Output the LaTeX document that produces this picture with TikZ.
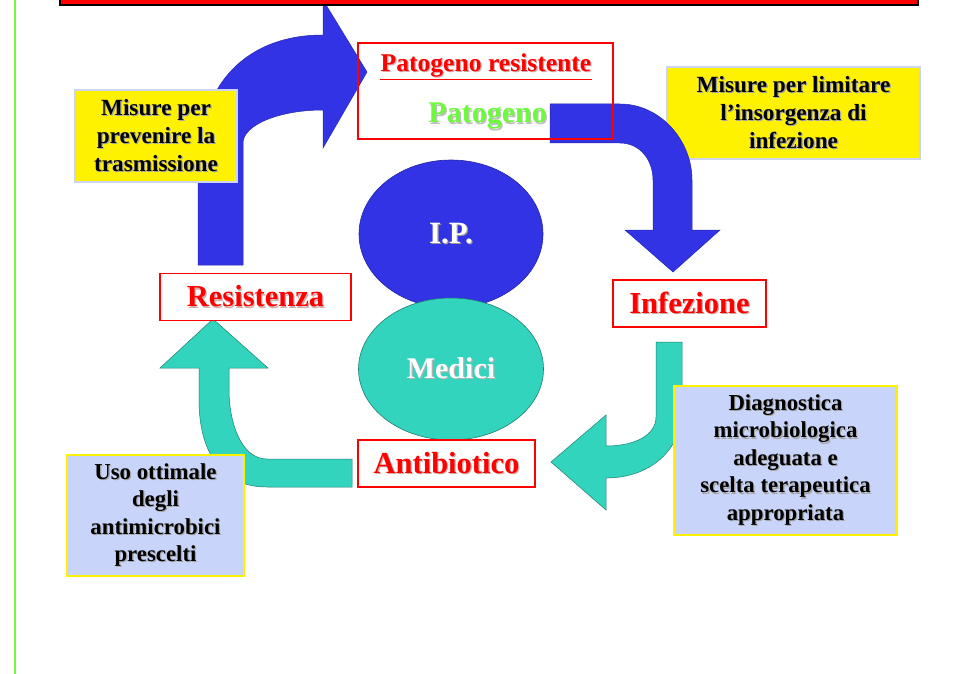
\documentclass[tikz,border=0pt]{standalone}
\usepackage{fontspec}
\setmainfont{Liberation Serif}
\usetikzlibrary{shapes.geometric}
\definecolor{arrblue}{RGB}{51,51,230}
\definecolor{arrteal}{RGB}{51,212,189}
\definecolor{lgreen}{RGB}{110,250,60}
\definecolor{paleblue}{RGB}{200,212,250}
\definecolor{ybord}{RGB}{205,212,240}
\newcommand\txtshadow[2][black!35]{\makebox[0pt][l]{\kern1.2pt\raisebox{-1.2pt}{\textcolor{#1}{#2}}}#2}
\begin{document}
\begin{tikzpicture}[x=1pt,y=-1pt,
  redbox/.style={draw=red, line width=1.3pt, fill=white, minimum width=#1, inner sep=0pt, text=red, font=\fontsize{30.5}{32}\selectfont\bfseries},
  yelbox/.style={draw=ybord, line width=1.3pt, fill=yellow, inner sep=0pt, align=center, font=\fontsize{23.2}{28}\selectfont\bfseries},
  blubox/.style={draw=yellow, line width=1.5pt, fill=paleblue, inner sep=0pt, align=center, font=\fontsize{22.8}{27.5}\selectfont\bfseries},
  bluearr/.style={fill=arrblue, draw=arrblue!75!black, line width=0.5pt},
  tealarr/.style={fill=arrteal, draw=arrteal!60!black, line width=0.5pt},
  blob/.style={ellipse, inner sep=0pt, line width=0.6pt, text=white, font=\bfseries}
]
\useasboundingbox (0,0) rectangle (961,674);
\fill[white] (0,0) rectangle (961,674);
% green margin line
\draw[lgreen, line width=1.6pt] (15,0) -- (15,674);

% top-left blue bent arrow
\path[bluearr] (198,265) -- (198,170) .. controls (198,80) and (250,35) .. (323,35)
  -- (323,0) -- (367,72) -- (323,148) -- (323,110)
  .. controls (279,110) and (243,125) .. (243,143) -- (243,265) -- cycle;

% title bar (cut off)
\draw[fill=red, draw=black, line width=1.8pt] (60,-10) rectangle (918,5);

% yellow box right (under arrow)
\node[yelbox, minimum width=253pt, minimum height=92pt] (limit) at (793.5,113)
  {\txtshadow{Misure per limitare}\\\txtshadow{l’insorgenza di}\\\txtshadow{infezione}};

% top-right blue arrow
\path[bluearr] (550,104) -- (620,104) .. controls (660,104) and (692,140) .. (692,180)
  -- (692,230) -- (720,230) -- (673,272) -- (625,230) -- (653,230) -- (653,180)
  .. controls (653,160) and (640,143) .. (620,143) -- (550,143) -- cycle;

% yellow box left (over arrow)
\node[yelbox, minimum width=162pt, minimum height=92pt] (prev) at (156,136)
  {\txtshadow{Misure per}\\\txtshadow{prevenire la}\\\txtshadow{trasmissione}};

% patogeno resistente box
\node[draw=red, line width=1.2pt, minimum width=255pt, minimum height=96pt, inner sep=0pt] (patbox) at (485.5,91) {};
\node[text=red, font=\fontsize{25.6}{27}\selectfont\bfseries, inner sep=0pt] (patres) at (486,66) {\txtshadow[red!30!gray!50]{Patogeno resistente}};
\draw[red, line width=1.8pt] ([yshift=-1pt]patres.south west) -- ([yshift=-1pt]patres.south east);
\node[text=lgreen, font=\fontsize{30}{32}\selectfont\bfseries, inner sep=0pt, anchor=east] (pat) at (547,117) {\txtshadow[black!25]{Patogeno}};

% teal arrow right (Infezione -> Antibiotico)
\path[tealarr] (656,342) -- (682,342) -- (682,410) .. controls (682,450) and (650,478) .. (606,478)
  -- (606,510) -- (551,462) -- (606,415) -- (606,446)
  .. controls (635,446) and (656,435) .. (656,417) -- cycle;

% teal arrow left (Antibiotico -> Resistenza)
\path[tealarr] (352,459) -- (267,459) .. controls (240,459) and (229,420) .. (229,390)
  -- (229,368) -- (268,368) -- (213,319) -- (160,368) -- (199,368) -- (199,400)
  .. controls (199,450) and (220,487) .. (267,487) -- (352,487) -- cycle;

% pale blue boxes
\node[blubox, minimum width=223pt, minimum height=149pt] (diag) at (785.5,460.5)
  {\txtshadow{Diagnostica}\\\txtshadow{microbiologica}\\\txtshadow{adeguata e}\\\txtshadow{scelta terapeutica}\\\txtshadow{appropriata}};
\node[blubox, minimum width=177pt, minimum height=121pt] (uso) at (155.5,515.5)
  {\txtshadow{Uso ottimale}\\\txtshadow{degli}\\\txtshadow{antimicrobici}\\\txtshadow{prescelti}};

% ellipses
\node[blob, fill=arrblue, draw=arrblue!70!black, minimum width=184pt, minimum height=148pt, font=\fontsize{31}{33}\selectfont\bfseries] (ip) at (451,234) {\txtshadow[black!40]{I.P.}};
\node[blob, fill=arrteal, draw=arrteal!60!black, minimum width=185pt, minimum height=142pt, font=\fontsize{30}{32}\selectfont\bfseries] (med) at (451,369) {\txtshadow[black!30]{Medici}};

% red label boxes
\node[redbox=191pt, minimum height=47pt] (res) at (255.5,297) {\txtshadow[red!30!gray!50]{Resistenza}};
\node[redbox=153pt, minimum height=47pt] (inf) at (689.5,303.5) {\txtshadow[red!30!gray!50]{Infezione}};
\node[redbox=177pt, minimum height=47pt] (ant) at (446.5,463.5) {\txtshadow[red!30!gray!50]{Antibiotico}};
\end{tikzpicture}
\end{document}
